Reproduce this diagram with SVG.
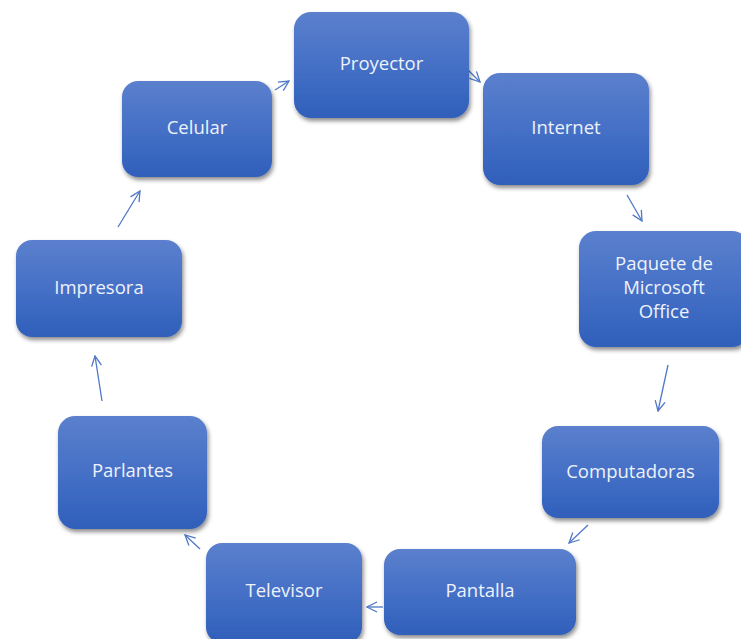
<svg xmlns="http://www.w3.org/2000/svg" width="741" height="639" viewBox="0 0 741 639">
  <defs>
    <linearGradient id="g" x1="0" y1="0" x2="0" y2="1">
      <stop offset="0" stop-color="#5b80cd"/>
      <stop offset="0.5" stop-color="#4570c6"/>
      <stop offset="1" stop-color="#2f5fba"/>
    </linearGradient>
    <filter id="sh" x="-10%" y="-10%" width="125%" height="130%">
      <feDropShadow dx="1.5" dy="3" stdDeviation="2.2" flood-color="#000" flood-opacity="0.45"/>
    </filter>
    <marker id="ah" viewBox="0 0 12 12" refX="11" refY="6" markerWidth="12" markerHeight="12" markerUnits="userSpaceOnUse" orient="auto">
      <path d="M1,1 L11,6 L1,11" fill="none" stroke="#4f78c8" stroke-width="1.3"/>
    </marker>
    <style>
      .box { fill: url(#g); filter: url(#sh); }
      .lbl { font-family: "Open Sans", "Noto Sans", sans-serif; font-size: 18.5px; fill: #eef2fb; text-anchor: middle; dominant-baseline: central; }
      .con line { stroke: #4f78c8; stroke-width: 1.3; fill: none; marker-end: url(#ah); }
    </style>
  </defs>
  <rect width="741" height="639" fill="#ffffff"/>

  <g id="connectors" class="con">
    <line x1="275" y1="90" x2="289" y2="81"/>
    <line x1="468" y1="70" x2="480" y2="82"/>
    <line x1="627" y1="195" x2="642" y2="221"/>
    <line x1="668" y1="365" x2="658" y2="411"/>
    <line x1="588" y1="525" x2="569" y2="543"/>
    <line x1="383" y1="607" x2="367" y2="607"/>
    <line x1="200" y1="549" x2="185" y2="535"/>
    <line x1="102" y1="401" x2="95" y2="356"/>
    <line x1="118" y1="227" x2="140" y2="191"/>
  </g>

  <g id="proyector">
    <rect class="box" x="294" y="12" width="175" height="106" rx="17"/>
    <text class="lbl" x="381.5" y="62">Proyector</text>
  </g>
  <g id="internet">
    <rect class="box" x="483" y="73" width="166" height="112" rx="17"/>
    <text class="lbl" x="566" y="126">Internet</text>
  </g>
  <g id="paquete">
    <rect class="box" x="579" y="231" width="170" height="116" rx="17"/>
    <text class="lbl" x="664" y="262">Paquete de</text>
    <text class="lbl" x="664" y="286">Microsoft</text>
    <text class="lbl" x="664" y="310">Office</text>
  </g>
  <g id="computadoras">
    <rect class="box" x="542" y="426" width="177" height="92" rx="16"/>
    <text class="lbl" x="630.5" y="470">Computadoras</text>
  </g>
  <g id="pantalla">
    <rect class="box" x="384" y="549" width="192" height="86" rx="16"/>
    <text class="lbl" x="480" y="589">Pantalla</text>
  </g>
  <g id="televisor">
    <rect class="box" x="206" y="543" width="156" height="100" rx="16"/>
    <text class="lbl" x="284" y="589">Televisor</text>
  </g>
  <g id="parlantes">
    <rect class="box" x="58" y="416" width="149" height="113" rx="17"/>
    <text class="lbl" x="132.5" y="469">Parlantes</text>
  </g>
  <g id="impresora">
    <rect class="box" x="16" y="240" width="166" height="97" rx="16"/>
    <text class="lbl" x="99" y="286">Impresora</text>
  </g>
  <g id="celular">
    <rect class="box" x="122" y="81" width="150" height="96" rx="16"/>
    <text class="lbl" x="197" y="126">Celular</text>
  </g>
</svg>
